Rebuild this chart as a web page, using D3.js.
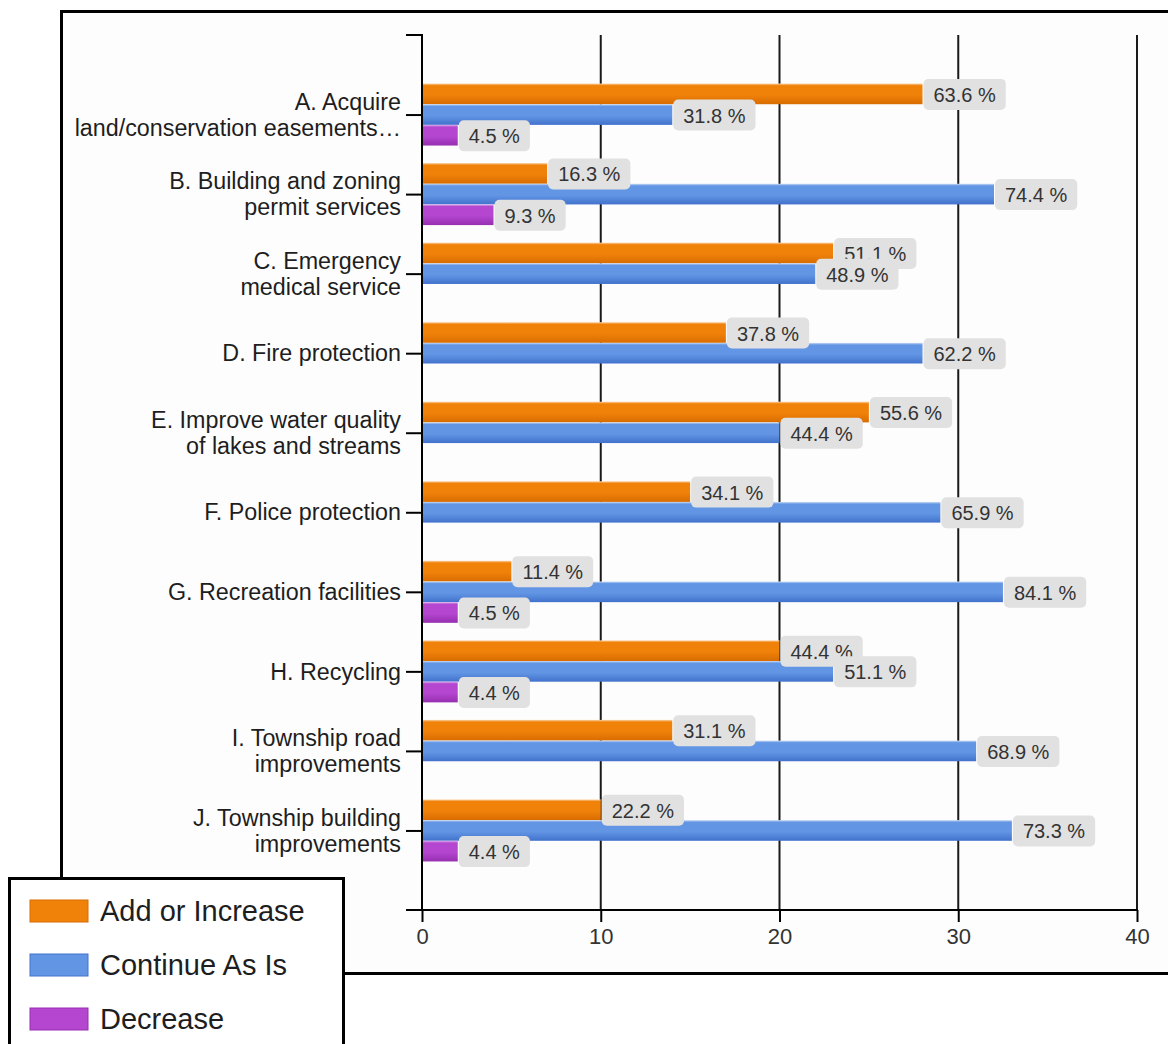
<!DOCTYPE html>
<html>
<head>
<meta charset="utf-8">
<script src="https://cdn.jsdelivr.net/npm/d3@7"></script>
<style>
  html, body { margin: 0; padding: 0; background: #ffffff; }
  svg { display: block; font-family: "Liberation Sans", Arial, sans-serif; }
</style>
</head>
<body>
<svg id="chart" width="1168" height="1044"></svg>
<script>
// Services, each label split into the lines it is drawn on
const categories = [
  ["A. Acquire", "land/conservation easements…"],
  ["B. Building and zoning", "permit services"],
  ["C. Emergency", "medical service"],
  ["D. Fire protection"],
  ["E. Improve water quality", "of lakes and streams"],
  ["F. Police protection"],
  ["G. Recreation facilities"],
  ["H. Recycling"],
  ["I. Township road", "improvements"],
  ["J. Township building", "improvements"]
];

const seriesNames = ["Add or Increase", "Continue As Is", "Decrease"];

// Response counts (bar lengths)
const addCounts      = [28, 7, 23, 17, 25, 15, 5, 20, 14, 10];
const continueCounts = [14, 32, 22, 28, 20, 29, 32.5, 23, 31, 33];
const decreaseCounts = [2, 4, 0, 0, 0, 0, 2, 2, 0, 2];

// Share of responses printed beside each bar
const addPct      = [63.6, 16.3, 51.1, 37.8, 55.6, 34.1, 11.4, 44.4, 31.1, 22.2];
const continuePct = [31.8, 74.4, 48.9, 62.2, 44.4, 65.9, 84.1, 51.1, 68.9, 73.3];
const decreasePct = [4.5, 9.3, null, null, null, null, 4.5, 4.4, null, 4.4];

const xTicks = [0, 10, 20, 30, 40];

const seriesCounts = [addCounts, continueCounts, decreaseCounts];
const seriesPct = [addPct, continuePct, decreasePct];
const seriesColors = [
  { top: "#fbd3a6", mid: "#f0820a", bot: "#d86c00" },
  { top: "#cddcf6", mid: "#6296e4", bot: "#4272cc" },
  { top: "#e3b6ef", mid: "#b446d0", bot: "#962fb0" }
];

const svg = d3.select("#chart");
const defs = svg.append("defs");

seriesColors.forEach((c, i) => {
  const g = defs.append("linearGradient")
    .attr("id", "grad" + i)
    .attr("x1", 0).attr("y1", 0).attr("x2", 0).attr("y2", 1);
  g.append("stop").attr("offset", "0%").attr("stop-color", c.top);
  g.append("stop").attr("offset", "10%").attr("stop-color", c.mid);
  g.append("stop").attr("offset", "55%").attr("stop-color", c.mid);
  g.append("stop").attr("offset", "100%").attr("stop-color", c.bot);
});

// Outer chart frame
svg.append("rect")
  .attr("x", 61.5).attr("y", 11.5)
  .attr("width", 1130).attr("height", 962)
  .attr("fill", "#fdfdfd")
  .attr("stroke", "#000").attr("stroke-width", 3);

const plotTop = 35, plotBottom = 910;
const x = d3.scaleLinear().domain([0, 40]).range([422, 1137]);
const y = d3.scalePoint()
  .domain(d3.range(categories.length))
  .range([plotTop, plotBottom])
  .padding(1);
const slot = d3.scaleBand().domain([0, 1, 2]).range([-31, 31]);

// Vertical gridlines
svg.append("g")
  .selectAll("line")
  .data(xTicks.filter(t => t > 0))
  .join("line")
  .attr("x1", d => x(d)).attr("x2", d => x(d))
  .attr("y1", plotTop).attr("y2", plotBottom)
  .attr("stroke", "#1a1a1a").attr("stroke-width", 2);

// Bars
seriesCounts.forEach((vals, s) => {
  svg.append("g")
    .selectAll("rect")
    .data(vals.map((v, i) => ({ v, i })).filter(d => d.v > 0))
    .join("rect")
    .attr("x", x(0))
    .attr("y", d => y(d.i) + slot(s))
    .attr("width", d => x(d.v) - x(0))
    .attr("height", slot.bandwidth())
    .attr("fill", `url(#grad${s})`);
});

// Y axis with category ticks
const yAxis = d3.axisLeft(y).tickSize(16).tickFormat("");
const yg = svg.append("g").attr("transform", `translate(${x(0)},0)`).call(yAxis);
yg.select(".domain").remove();
yg.selectAll(".tick line").attr("stroke", "#000").attr("stroke-width", 2);
svg.append("line")
  .attr("x1", x(0)).attr("x2", x(0))
  .attr("y1", plotTop - 1).attr("y2", plotBottom)
  .attr("stroke", "#000").attr("stroke-width", 2);
svg.append("line")
  .attr("x1", x(0) - 16).attr("x2", x(0) + 1)
  .attr("y1", plotTop).attr("y2", plotTop)
  .attr("stroke", "#000").attr("stroke-width", 2);

// Category labels
const catG = svg.append("g")
  .attr("font-size", 23.3).attr("fill", "#1e1e1e").attr("text-anchor", "end");
categories.forEach((lines, i) => {
  const lh = 26;
  const t = catG.append("text").attr("x", 401);
  lines.forEach((ln, k) => {
    t.append("tspan")
      .attr("x", 401)
      .attr("y", y(i) + (k - (lines.length - 1) / 2) * lh)
      .attr("dy", "0.35em")
      .text(ln);
  });
});

// X axis
const xAxis = d3.axisBottom(x).tickValues(xTicks).tickSize(12).tickPadding(6);
const xg = svg.append("g").attr("transform", `translate(0,${plotBottom})`).call(xAxis);
xg.select(".domain").remove();
xg.selectAll(".tick line").attr("stroke", "#000").attr("stroke-width", 2);
xg.selectAll(".tick text")
  .attr("font-size", 22).attr("fill", "#333")
  .attr("font-family", "'Liberation Sans', Arial, sans-serif");
svg.append("line")
  .attr("x1", x(0) - 16).attr("x2", x(40) + 1)
  .attr("y1", plotBottom).attr("y2", plotBottom)
  .attr("stroke", "#000").attr("stroke-width", 2);

// Value labels in rounded boxes at the end of each bar
const labG = svg.append("g");
seriesCounts.forEach((vals, s) => {
  vals.forEach((v, i) => {
    const p = seriesPct[s][i];
    if (p == null) return;
    const cy = y(i) + slot(s) + slot.bandwidth() / 2;
    const bx = x(v) + 1;
    const g = labG.append("g");
    const rect = g.append("rect")
      .attr("rx", 5).attr("ry", 5)
      .attr("fill", "#e1e1e1");
    const txt = g.append("text")
      .attr("x", bx + 10).attr("y", cy + 1)
      .attr("dy", "0.35em")
      .attr("font-size", 20).attr("fill", "#333")
      .text(p.toFixed(1) + " %");
    const w = txt.node().getComputedTextLength();
    rect.attr("x", bx).attr("y", cy - 15)
      .attr("width", w + 20).attr("height", 31);
  });
});

// Legend
const leg = svg.append("g");
leg.append("rect")
  .attr("x", 9.5).attr("y", 878.5)
  .attr("width", 334).attr("height", 200)
  .attr("fill", "#ffffff")
  .attr("stroke", "#000").attr("stroke-width", 3);
seriesNames.forEach((name, s) => {
  const ly = 911 + s * 54;
  leg.append("rect")
    .attr("x", 30).attr("y", ly - 11)
    .attr("width", 58).attr("height", 22)
    .attr("fill", seriesColors[s].mid)
    .attr("stroke", seriesColors[s].bot).attr("stroke-width", 1);
  leg.append("text")
    .attr("x", 100).attr("y", ly)
    .attr("dy", "0.36em")
    .attr("font-size", 29).attr("fill", "#1e1e1e")
    .text(name);
});
</script>
</body>
</html>
